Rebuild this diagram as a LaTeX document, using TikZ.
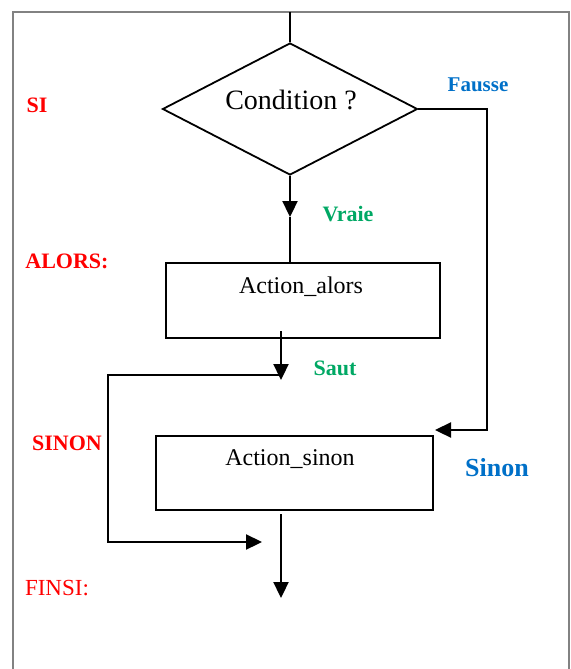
\documentclass[tikz,border=0pt]{standalone}
\usepackage{fontspec}
\setmainfont{Liberation Serif}
\usetikzlibrary{shapes.geometric,arrows.meta}
\definecolor{lblred}{RGB}{255,0,0}
\definecolor{lblgreen}{RGB}{0,168,100}
\definecolor{lblblue}{RGB}{0,112,200}
\definecolor{framegray}{RGB}{130,130,130}
\tikzset{
  flow/.style={line width=2.3pt, draw=black},
  arr/.style={flow, -{Triangle[width=15pt,length=16pt]}},
  decision/.style={diamond, draw, line width=1.8pt, inner sep=0pt, aspect=2, minimum width=255pt, minimum height=132pt},
  actionbox/.style={rectangle, draw, line width=2.3pt, inner sep=0pt},
  boxtext/.style={inner sep=0pt, font=\fontsize{24}{28}\selectfont},
  redlbl/.style={inner sep=0pt, text=lblred, font=\fontsize{22}{26}\selectfont\bfseries},
  redlblreg/.style={inner sep=0pt, text=lblred, font=\fontsize{23}{26}\selectfont},
  greenlbl/.style={inner sep=0pt, text=lblgreen, font=\fontsize{22}{26}\selectfont\bfseries},
  bluelbl/.style={inner sep=0pt, text=lblblue, font=\fontsize{21}{26}\selectfont\bfseries},
}
\begin{document}
\begin{tikzpicture}[x=1pt,y=-1pt]
\useasboundingbox (0,0) rectangle (570,669);
\draw[framegray, line width=1.3pt] (13,669) -- (13,12) -- (569,12) -- (569,669);

% nodes
\node[decision] (cond) at (290,109) {};
\node[boxtext, font=\fontsize{28}{32}\selectfont] (condT) at (291,100) {Condition ?};
\node[actionbox, minimum width=274pt, minimum height=75pt] (alors) at (303,300.5) {};
\node[boxtext] (alorsT) at (301,287) {Action\_alors};
\node[actionbox, minimum width=277pt, minimum height=74pt] (sinon) at (294.5,473) {};
\node[boxtext] (sinonT) at (290,459) {Action\_sinon};

% labels
\node[redlbl] (lSI) at (37,105) {SI};
\node[redlbl] (lALORS) at (67,261) {ALORS:};
\node[redlbl] (lSINON) at (67,443) {SINON};
\node[redlblreg] (lFINSI) at (57,588) {FINSI:};
\node[bluelbl] (lFausse) at (478,85) {Fausse};
\node[greenlbl] (lVraie) at (348,214) {Vraie};
\node[greenlbl] (lSaut) at (335,368) {Saut};
\node[bluelbl, font=\fontsize{26}{30}\selectfont\bfseries] (lSinon) at (497,468) {Sinon};

% coordinates
\coordinate (top) at (290,12);
\coordinate (vtip) at (290,217);
\coordinate (fcorner) at (487,109);
\coordinate (ftip) at (435,430);
\coordinate (a0) at (281,331);
\coordinate (stip) at (281,380);
\coordinate (sj) at (281,375);
\coordinate (sl) at (108,375);
\coordinate (sb) at (108,542);
\coordinate (jtip) at (262,542);
\coordinate (s0) at (281,514);
\coordinate (fin) at (281,598);

% connectors
\draw[flow] (top) -- (cond.north);
\draw[arr] (cond.south) -- (vtip);
\draw[flow] (vtip) -- (vtip |- alors.north);
\draw[arr] (cond.east) -| (fcorner |- ftip) -- (ftip);
\draw[arr] (a0) -- (stip);
\draw[arr] (sj) -- (sl) -- (sb) -- (jtip);
\draw[arr] (s0) -- (fin);
\end{tikzpicture}
\end{document}
